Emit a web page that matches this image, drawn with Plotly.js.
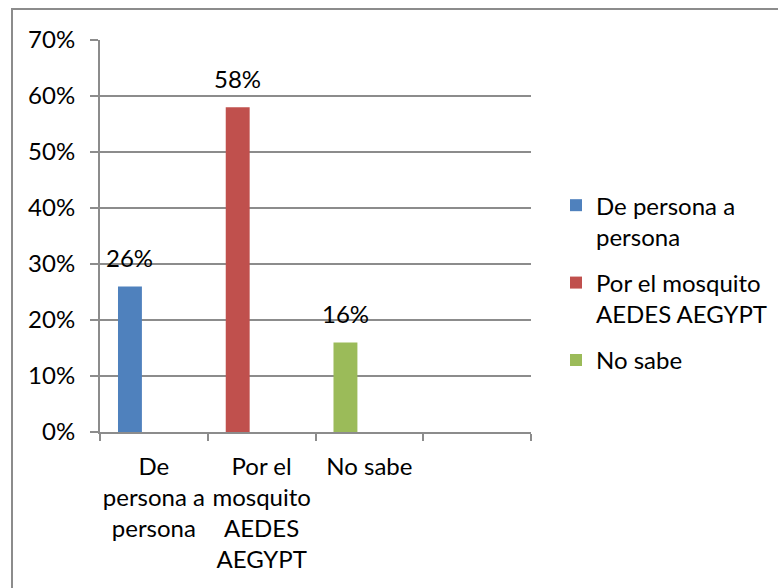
<!DOCTYPE html>
<html>
<head>
<meta charset="utf-8">
<script src="https://cdn.plot.ly/plotly-3.0.1.min.js"></script>
<style>
  html, body { margin: 0; padding: 0; background: #fff; overflow: hidden; }
  #wrap { position: relative; width: 778px; height: 588px; }
  #chart { position: absolute; left: 0; top: 0; width: 778px; height: 588px; }
  #frame { position: absolute; left: 11px; top: 8px; width: 900px; height: 700px;
           border-left: 2px solid #8c8c8c; border-top: 2px solid #8c8c8c; pointer-events: none; }
</style>
</head>
<body>
<div id="wrap">
  <div id="chart"></div>
  <div id="frame"></div>
</div>
<script>
// Data
const categories = ["De<br>persona a<br>persona", "Por el<br>mosquito<br>AEDES<br>AEGYPT", "No sabe", ""];
const seriesNames = ["De persona a<br>persona", "Por el mosquito<br>AEDES AEGYPT", "No sabe"];
const seriesValues = [26, 58, 16];
const seriesCategoryIndex = [1, 2, 3];
const seriesColors = ["#4F81BD", "#C0504D", "#9BBB59"];
const yTicks = [0, 10, 20, 30, 40, 50, 60, 70];

const FONT = "Lato, 'Open Sans', sans-serif";
const FS = 24;
const barOffset = -0.333;
const barWidth = 0.222;

const traces = seriesNames.map((name, i) => ({
  type: "bar",
  name: name,
  x: [seriesCategoryIndex[i]],
  y: [seriesValues[i]],
  offset: barOffset,
  width: barWidth,
  marker: { color: seriesColors[i], line: { width: 0 } },
  legendgroup: "g" + i,
  hoverinfo: "none"
}));

const annotations = seriesNames.map((name, i) => ({
  x: seriesCategoryIndex[i] + barOffset + barWidth / 2,
  y: seriesValues[i],
  xref: "x", yref: "y",
  text: seriesValues[i] + "%",
  showarrow: false,
  yanchor: "bottom",
  yshift: 12,
  font: { family: FONT, size: FS, color: "#000" }
}));

const layout = {
  width: 778, height: 588,
  margin: { l: 100, r: 247, t: 40, b: 156, pad: 0, autoexpand: false },
  paper_bgcolor: "#fff", plot_bgcolor: "#fff",
  barmode: "overlay",
  font: { family: FONT, size: FS, color: "#000" },
  xaxis: {
    range: [0.5, 4.5],
    tickmode: "array",
    tickvals: [1, 2, 3, 4],
    ticktext: categories,
    ticks: "",
    ticklabelstandoff: 12,
    showgrid: false,
    zeroline: false,
    showline: true, linecolor: "#8c8c8c", linewidth: 2,
    minor: { tickmode: "array", tickvals: [0.5, 1.5, 2.5, 3.5, 4.5], ticks: "outside", ticklen: 7, tickcolor: "#8c8c8c", tickwidth: 2, showgrid: false },
    tickfont: { family: FONT, size: FS, color: "#000" },
    automargin: false,
    fixedrange: true
  },
  yaxis: {
    range: [0, 70],
    tickmode: "array",
    tickvals: yTicks,
    ticktext: yTicks.map(v => v + "%"),
    ticks: "outside", ticklen: 8, tickcolor: "#8c8c8c", tickwidth: 2,
    ticklabelstandoff: 10,
    showgrid: true, gridcolor: "#8c8c8c", gridwidth: 2,
    zeroline: false,
    showline: true, linecolor: "#8c8c8c", linewidth: 2,
    tickfont: { family: FONT, size: FS, color: "#000" },
    automargin: false,
    fixedrange: true
  },
  legend: {
    x: 1.058, xanchor: "left",
    y: 0.635, yanchor: "top",
    valign: "top",
    traceorder: "grouped",
    tracegroupgap: 12,
    font: { family: FONT, size: FS, color: "#000" },
    bgcolor: "rgba(0,0,0,0)",
    borderwidth: 0
  },
  annotations: annotations,
  showlegend: true
};

Plotly.newPlot("chart", traces, layout, { displayModeBar: false, staticPlot: true });
</script>
</body>
</html>
